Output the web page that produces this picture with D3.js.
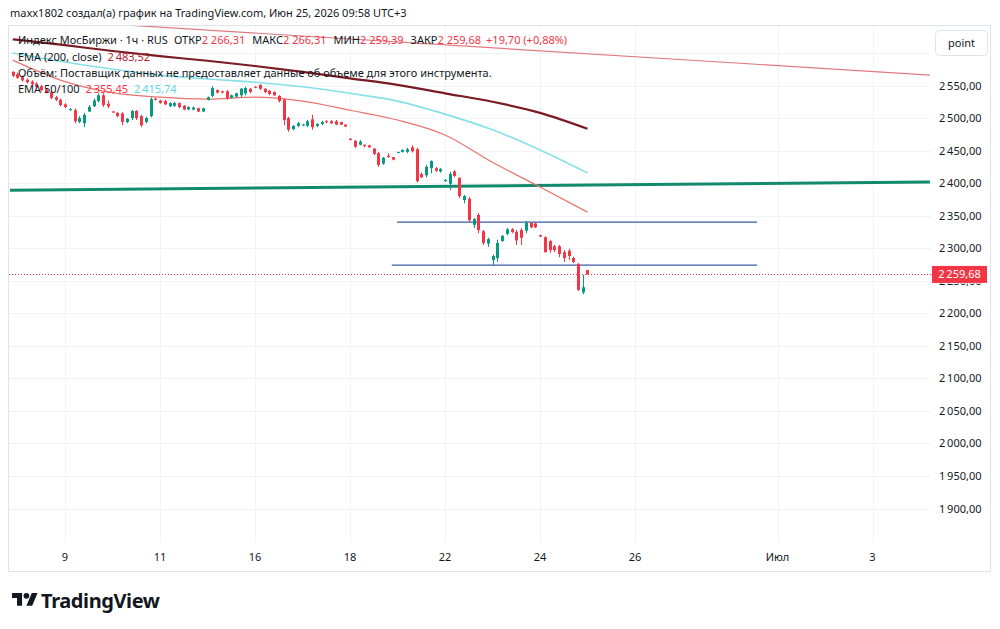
<!DOCTYPE html>
<html><head><meta charset="utf-8">
<script src="https://cdn.jsdelivr.net/npm/d3@7"></script>
<style>
body{margin:0;background:#fff;}
svg{display:block;font-family:"Noto Sans",sans-serif;}
</style>
</head><body>
<svg id="c" width="1000" height="629"></svg>
<script>
// ---------------- DATA ----------------
const tradingDays = ["5","8","9","10","11","15","16","17","18","19","22","23","24","25","26","29","30","Июл","2","3","6"];
const timeTickDays = [2,4,6,8,10,12,14,17,19];      // indexes into tradingDays that get a label
const slotsPerDay = 10;
const firstCandleDay = 0, firstCandleSlot = 9;
// hourly candles [open, high, low, close]
const candles = [
[2571,2572,2563,2565],[2567,2570,2560,2562],[2563,2565,2556,2558],[2559,2561,2553,2555],[2556,2558,2550,2552],
[2553,2555,2546,2548],[2549,2551,2541,2543],[2544,2546,2538,2540],[2540,2542,2529,2531],[2532,2534,2526,2528],
[2528,2530,2518,2520],[2521,2523,2515,2517],[2513,2515,2511,2514],[2512,2515,2492,2495],[2494,2503,2492,2500],
[2492,2508,2486,2505],[2510,2520,2509,2517],[2518,2530,2517,2527],[2526,2538,2524,2535],[2535,2538,2517,2520],
[2522,2527,2515,2518],[2510,2511,2508,2509],[2508,2509,2501,2503],[2507,2509,2489,2494],[2494,2500,2492,2499],
[2500,2512,2497,2511],[2511,2512,2497,2500],[2503,2505,2486,2489],[2494,2502,2492,2500],[2503,2532,2501,2529],
[2530,2531,2527,2528],[2527,2528,2522,2523],[2526,2528,2520,2521],[2518,2524,2517,2523],[2519,2525,2517,2523],
[2523,2524,2515,2517],[2519,2520,2512,2513],[2513,2518,2512,2517],[2513,2518,2512,2516],[2515,2516,2509,2510],
[2510,2516,2509,2515],[2528,2533,2527,2532],[2534,2549,2532,2546],[2543,2544,2538,2539],[2541,2542,2538,2539],
[2541,2543,2528,2531],[2531,2536,2530,2535],[2533,2539,2532,2538],[2535,2546,2532,2545],[2538,2548,2535,2546],
[2545,2546,2538,2540],[2548,2549,2546,2547],[2551,2552,2543,2545],[2545,2546,2538,2540],[2542,2543,2535,2537],
[2540,2541,2534,2535],[2534,2535,2524,2526],[2528,2530,2489,2497],[2500,2502,2479,2482],[2483,2489,2481,2488],
[2488,2494,2486,2492],[2489,2491,2488,2490],[2488,2497,2486,2495],[2498,2505,2482,2486],[2488,2492,2486,2491],
[2491,2496,2489,2494],[2495,2497,2492,2494],[2495,2497,2491,2492],[2495,2497,2489,2490],[2494,2494,2489,2490],
[2490,2490,2486,2487],[2468,2469,2466,2466],[2465,2466,2454,2456],[2459,2466,2458,2464],[2459,2459,2455,2457],
[2458,2459,2454,2455],[2453,2454,2443,2445],[2446,2448,2425,2428],[2430,2440,2428,2439],[2442,2446,2439,2440],
[2440,2440,2435,2436],[2447,2448,2446,2448],[2448,2452,2447,2451],[2448,2454,2446,2452],[2455,2458,2447,2449],
[2452,2454,2401,2403],[2414,2416,2408,2409],[2412,2428,2409,2425],[2423,2435,2415,2434],[2423,2425,2417,2419],
[2418,2423,2416,2422],[2403,2406,2402,2405],[2399,2417,2389,2414],[2418,2420,2409,2411],[2408,2409,2377,2380],
[2374,2382,2369,2380],[2376,2379,2340,2343],[2336,2346,2331,2345],[2351,2354,2323,2328],[2326,2328,2305,2308],
[2307,2316,2302,2314],[2282,2290,2274,2288],[2285,2313,2279,2308],[2311,2320,2310,2319],[2322,2331,2320,2329],
[2329,2331,2323,2325],[2325,2328,2305,2312],[2328,2331,2305,2316],[2327,2342,2323,2339],[2339,2340,2331,2332],
[2338,2339,2331,2332],[2320,2321,2317,2318],[2317,2318,2293,2294],[2311,2313,2293,2297],[2303,2305,2294,2297],
[2303,2305,2286,2291],[2294,2297,2279,2285],[2296,2299,2282,2288],[2285,2287,2277,2279],[2276,2277,2234,2236],
[2232,2259,2229,2240],[2266.31,2266.31,2259.39,2259.68]
];
// EMA values read at these candle indexes
const emaSampleIdx = [0,11,21,31,41,51,61,71,81,91,101,111,121];
const ema200 = [2621,2612,2603,2595,2588,2580,2571,2561,2551,2538,2525,2508,2483.52];
const ema100 = [2600,2586,2575,2566,2560,2555,2548,2538,2526,2506,2482,2451,2415.74];
const ema50  = [2589,2556,2539,2532,2529,2532,2526,2512,2497,2474,2432,2394,2355.45];
// drawn lines: [dayFrom, priceFrom, dayTo, priceTo]
const trendRed   = [0.84,2654,20.21,2566];
const trendGreen = [0.84,2389,20.21,2401.7];
const levelUpper = [8.99,2340,16.57,2340];
const levelLower = [8.88,2274,16.57,2274];
const lastPrice = 2259.68;
const priceTicks = [2550,2500,2450,2400,2350,2300,2250,2200,2150,2100,2050,2000,1950,1900];
const gridPrices = [2600,2550,2500,2450,2400,2350,2300,2250,2200,2150,2100,2050,2000,1950,1900];
const headerText = "maxx1802 создал(а) график на TradingView.com, Июн 25, 2026 09:58 UTC+3";
const ohlcLabels = ["ОТКР","МАКС","МИН","ЗАКР"];
const ohlcValues = ["2 266,31","2 266,31","2 259,39","2 259,68"];
const changeText = "+19,70 (+0,88%)";

// ---------------- LAYOUT ----------------
const svg = d3.select("#c");
const plot = {l:9, r:931, t:26, b:543};
const x = d3.scaleLinear().domain([2,14]).range([65,635]);
const y = d3.scaleLinear().domain([1900,2550]).range([508.5,85.5]);
const cx = i => x(firstCandleDay + (firstCandleSlot + i)/slotsPerDay);
const loc = d3.formatLocale({decimal:",",thousands:"\u2009",grouping:[3],currency:["",""]});
const fmt = loc.format(",.2f");
const UP="#089981", DN="#f23645", TXT="#131722";

// frame
svg.append("rect").attr("x",8.5).attr("y",25.5).attr("width",982).attr("height",546)
  .attr("fill","none").attr("stroke","#e0e3eb");

const defs = svg.append("defs");
defs.append("clipPath").attr("id","pc").append("rect")
  .attr("x",plot.l).attr("y",plot.t).attr("width",plot.r-plot.l).attr("height",plot.b-plot.t);
// area of the price scale not covered by the last-price badge
defs.append("clipPath").attr("id","badgeFree").append("rect")
  .attr("x",931).attr("y",y(lastPrice)+9).attr("width",60).attr("height",40);

// grid
const grid = svg.append("g").attr("stroke","#f0f3fa").attr("stroke-width",1);
gridPrices.forEach(p=>grid.append("line").attr("x1",plot.l).attr("x2",plot.r)
  .attr("y1",Math.round(y(p))+0.5).attr("y2",Math.round(y(p))+0.5));
timeTickDays.forEach(d=>grid.append("line").attr("y1",plot.t).attr("y2",plot.b)
  .attr("x1",Math.round(x(d))+0.5).attr("x2",Math.round(x(d))+0.5));

const g = svg.append("g").attr("clip-path","url(#pc)");

// trend lines
function seg(a,color,w){
  g.append("line").attr("x1",x(a[0])).attr("y1",y(a[1])).attr("x2",x(a[2])).attr("y2",y(a[3]))
   .attr("stroke",color).attr("stroke-width",w);
}
seg(trendRed,"#e07a80",1.2);
seg(trendGreen,"#138a6e",3);
seg(levelUpper,"#3a5ba8",1.2);
seg(levelLower,"#3a5ba8",1.2);

// EMA lines
function ema(vals,color,w){
  const line = d3.line().x((v,j)=>cx(emaSampleIdx[j])).y(v=>y(v)).curve(d3.curveMonotoneX);
  g.append("path").attr("d",line(vals)).attr("fill","none").attr("stroke",color).attr("stroke-width",w);
}
ema(ema50,"#e8736f",1.2);
ema(ema100,"#86e0e8",1.6);
ema(ema200,"#7a1a22",2.2);

// last price dotted line
g.append("line").attr("x1",plot.l).attr("x2",plot.r).attr("y1",Math.round(y(lastPrice))+0.5).attr("y2",Math.round(y(lastPrice))+0.5)
  .attr("stroke",DN).attr("stroke-width",1).attr("stroke-dasharray","1,2");

// candles
const cg = g.append("g");
candles.forEach((c,i)=>{
  const [o,h,l,cl]=c; const col = cl>=o?UP:DN; const xc = Math.round(cx(i));
  cg.append("line").attr("x1",xc+0.5).attr("x2",xc+0.5).attr("y1",y(h)).attr("y2",y(l)).attr("stroke",col).attr("stroke-width",1);
  const top=y(Math.max(o,cl)), bot=y(Math.min(o,cl));
  cg.append("rect").attr("x",xc-1).attr("width",3).attr("y",top).attr("height",Math.max(1,bot-top)).attr("fill",col);
});

// price axis labels (the one hidden under the badge only shows its lower sliver)
const pa = svg.append("g").attr("font-size",11).attr("fill",TXT);
priceTicks.forEach(p=>{
  const hidden = Math.abs(y(p)-y(lastPrice))<12;
  const t = pa.append("text").attr("x",939).attr("y",y(p)+4).text(fmt(p));
  if(hidden) t.attr("clip-path","url(#badgeFree)");
});
// last price label
svg.append("rect").attr("x",932).attr("y",y(lastPrice)-8.5).attr("width",55).attr("height",17).attr("fill",DN);
svg.append("text").attr("x",959.5).attr("y",y(lastPrice)+4).attr("text-anchor","middle").attr("font-size",11)
  .attr("fill","#fff").text(fmt(lastPrice));

// point button
svg.append("rect").attr("x",935.5).attr("y",30.5).attr("width",52).attr("height",25).attr("rx",4)
  .attr("fill","#fff").attr("stroke","#e0e3eb");
svg.append("text").attr("x",961.5).attr("y",47).attr("text-anchor","middle").attr("font-size",11).attr("fill",TXT).text("point");

// time axis labels
const ta = svg.append("g").attr("font-size",11).attr("fill",TXT).attr("text-anchor","middle");
timeTickDays.forEach(d=>ta.append("text").attr("x",x(d)).attr("y",561).text(tradingDays[d]));

// header & legend
svg.append("text").attr("x",10).attr("y",17).attr("font-size",11).attr("fill",TXT).text(headerText);
const l1 = svg.append("text").attr("x",18).attr("y",44).attr("font-size",11).attr("fill",TXT);
l1.append("tspan").text("Индекс МосБиржи · 1ч · RUS");
ohlcLabels.forEach((lb,k)=>{
  l1.append("tspan").attr("dx",k?7:6).text(lb);
  l1.append("tspan").attr("fill",DN).text(ohlcValues[k]);
});
l1.append("tspan").attr("dx",5).attr("fill",DN).text(changeText);
const l2 = svg.append("text").attr("x",18).attr("y",61).attr("font-size",11).attr("fill",TXT);
l2.append("tspan").text("EMA (200, close)");
l2.append("tspan").attr("dx",6).attr("fill","#b2222e").text(fmt(ema200[ema200.length-1]));
svg.append("text").attr("x",18).attr("y",77).attr("font-size",11).attr("fill",TXT)
  .text("Объём: Поставщик данных не предоставляет данные об объеме для этого инструмента.");
const l4 = svg.append("text").attr("x",18).attr("y",93).attr("font-size",11).attr("fill",TXT);
l4.append("tspan").text("EMA 50/100");
l4.append("tspan").attr("dx",6).attr("fill",DN).text(fmt(ema50[ema50.length-1]));
l4.append("tspan").attr("dx",6).attr("fill","#5fd6e2").text(fmt(ema100[ema100.length-1]));

// TradingView logo
const logo = svg.append("g").attr("transform","translate(12,590) scale(0.72)").attr("fill","#131722");
logo.append("path").attr("d","M14 22H7V11H0V4h14v18zM28 22h-8l7.5-18h8L28 22z");
logo.append("circle").attr("cx",20).attr("cy",8).attr("r",4);
svg.append("text").attr("x",41).attr("y",608).attr("font-size",20).attr("font-weight",700)
  .attr("fill","#131722").attr("letter-spacing",-0.4).text("TradingView");
</script>
</body></html>
